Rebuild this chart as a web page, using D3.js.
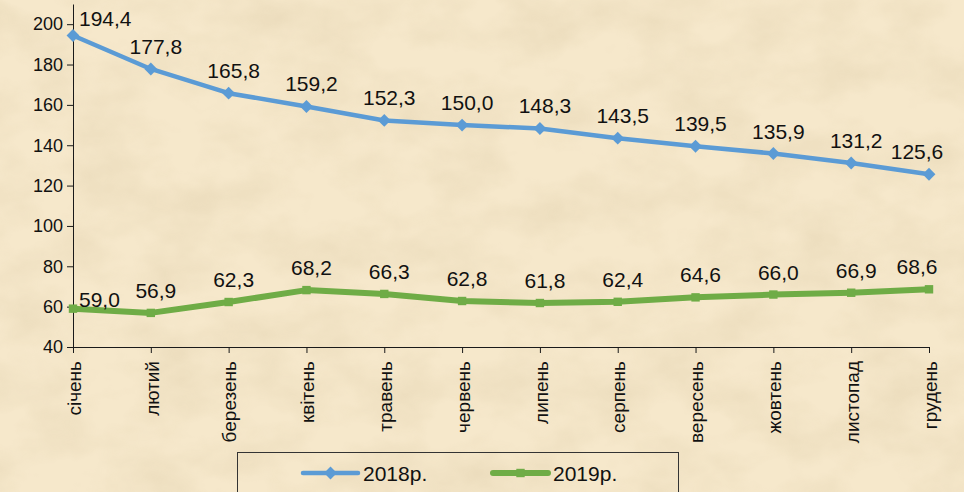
<!doctype html>
<html>
  <head>
    <meta charset="utf-8">
    <title>2018 / 2019</title>
    <script src="https://cdnjs.cloudflare.com/ajax/libs/d3/7.8.5/d3.min.js"></script>
    <style>
      html, body { margin: 0; padding: 0; background: #f2e3c3; }
      svg { display: block; font-family: "Liberation Sans", Arial, sans-serif; }
    </style>
  </head>
  <body>
    <div id="chart"></div>

    <script>
      // data
      const months = ['січень', 'лютий', 'березень', 'квітень', 'травень', 'червень',
                      'липень', 'серпень', 'вересень', 'жовтень', 'листопад', 'грудень'];
      const values2018 = [194.4, 177.8, 165.8, 159.2, 152.3, 150.0, 148.3, 143.5, 139.5, 135.9, 131.2, 125.6];
      const values2019 = [59.0, 56.9, 62.3, 68.2, 66.3, 62.8, 61.8, 62.4, 64.6, 66.0, 66.9, 68.6];
      const seriesNames = ['2018р.', '2019р.'];
      const yTicks = [40, 60, 80, 100, 120, 140, 160, 180, 200];

      const W = 964, H = 492;

      const svg = d3.select('#chart')
        .append('svg')
        .attr('width', W)
        .attr('height', H);

      // parchment background
      const defs = svg.append('defs');
      const f = defs.append('filter').attr('id', 'paper')
        .attr('x', 0).attr('y', 0).attr('width', '100%').attr('height', '100%');
      f.append('feTurbulence')
        .attr('type', 'fractalNoise')
        .attr('baseFrequency', '0.014 0.022')
        .attr('numOctaves', 4)
        .attr('seed', 7)
        .attr('result', 'noise');
      f.append('feColorMatrix')
        .attr('in', 'noise')
        .attr('type', 'matrix')
        .attr('values', '0 0 0 0 0.62  0 0 0 0 0.5  0 0 0 0 0.3  0 0 0 -1.1 0.72');

      svg.append('rect').attr('width', W).attr('height', H).attr('fill', '#f6e8cb');
      svg.append('rect').attr('width', W).attr('height', H)
        .attr('filter', 'url(#paper)').attr('opacity', 0.4);

      // scales
      const x = d3.scalePoint()
        .domain(months)
        .range([73, 929]);

      const y = d3.scaleLinear()
        .domain([40, 210])
        .range([347, 4]);

      // y axis
      const yAxis = svg.append('g')
        .attr('transform', 'translate(73,0)')
        .call(d3.axisLeft(y).tickValues(yTicks).tickSize(6).tickSizeOuter(0).tickFormat(d3.format('d')));
      yAxis.selectAll('path, line').attr('stroke', '#1a1a1a');
      yAxis.selectAll('text')
        .attr('font-size', 18)
        .attr('fill', '#111')
        .attr('x', -10)
        .attr('font-family', '"Liberation Sans", Arial, sans-serif');

      // x axis
      const xAxis = svg.append('g')
        .attr('transform', 'translate(0,347)')
        .call(d3.axisBottom(x).tickSize(6).tickSizeOuter(0));
      xAxis.select('.domain').attr('d', 'M67,0.5H929.5');
      xAxis.selectAll('path, line').attr('stroke', '#1a1a1a');
      xAxis.selectAll('text')
        .attr('font-size', 19)
        .attr('fill', '#111')
        .attr('font-family', '"Liberation Sans", Arial, sans-serif')
        .attr('text-anchor', 'end')
        .attr('transform', 'translate(0,14) rotate(-90)')
        .attr('x', 0)
        .attr('y', 0)
        .attr('dy', '0.38em');

      const series = [
        { name: seriesNames[0], values: values2018, color: '#5b9bd5', width: 4.5, marker: 'diamond', firstDy: -9 },
        { name: seriesNames[1], values: values2019, color: '#6fac46', width: 6, marker: 'square', firstDy: -2 }
      ];

      const line = d3.line()
        .x((d, i) => x(months[i]))
        .y(d => y(d));

      const diamond = d3.symbol().type(d3.symbolDiamond2).size(105);
      const square = d3.symbol().type(d3.symbolSquare2).size(90);

      series.forEach(s => {
        const g = svg.append('g');

        g.append('path')
          .datum(s.values)
          .attr('d', line)
          .attr('fill', 'none')
          .attr('stroke', s.color)
          .attr('stroke-width', s.width)
          .attr('stroke-linejoin', 'round')
          .attr('stroke-linecap', 'round');

        g.selectAll('path.marker')
          .data(s.values)
          .join('path')
          .attr('class', 'marker')
          .attr('transform', (d, i) => `translate(${x(months[i])},${y(d)})`)
          .attr('d', s.marker === 'diamond' ? diamond : square)
          .attr('fill', s.color);

        g.selectAll('text.label')
          .data(s.values)
          .join('text')
          .attr('class', 'label')
          .attr('x', (d, i) => i === 0 ? x(months[i]) + 6 : x(months[i]) + (i === months.length - 1 ? -12 : 5))
          .attr('y', (d, i) => y(d) + (i === 0 ? s.firstDy : -15))
          .attr('text-anchor', (d, i) => i === 0 ? 'start' : 'middle')
          .attr('font-size', 21)
          .attr('fill', '#111')
          .text(d => d3.format('.1f')(d).replace('.', ','));
      });

      // legend
      const legend = svg.append('g');
      legend.append('rect')
        .attr('x', 237.5).attr('y', 452.5)
        .attr('width', 441).attr('height', 60)
        .attr('fill', 'none')
        .attr('stroke', '#333')
        .attr('stroke-width', 1);

      const legendX = [303, 493];
      series.forEach((s, i) => {
        const lx = legendX[i];
        legend.append('line')
          .attr('x1', lx).attr('x2', lx + 55)
          .attr('y1', 473).attr('y2', 473)
          .attr('stroke', s.color)
          .attr('stroke-width', s.width)
          .attr('stroke-linecap', 'round');
        legend.append('path')
          .attr('transform', `translate(${lx + 27.5},473)`)
          .attr('d', s.marker === 'diamond' ? diamond : square)
          .attr('fill', s.color);
        legend.append('text')
          .attr('x', lx + 60)
          .attr('y', 481)
          .attr('font-size', 21)
          .attr('fill', '#111')
          .text(s.name);
      });
    </script>
  </body>
</html>
